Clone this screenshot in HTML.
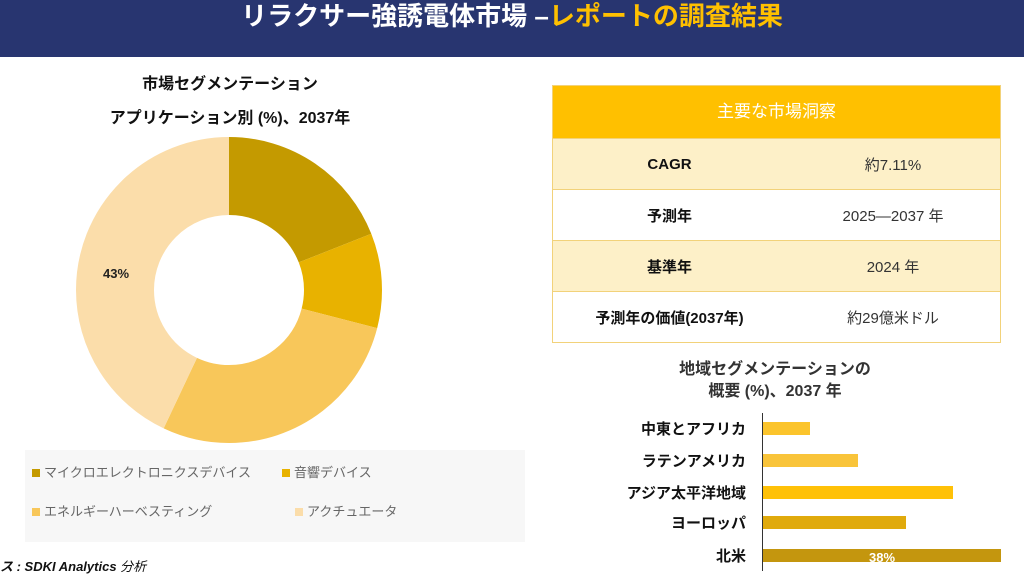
<!DOCTYPE html>
<html><head><meta charset="utf-8"><style>
*{margin:0;padding:0;box-sizing:border-box}
body{width:1024px;height:576px;background:#fff;position:relative;overflow:hidden;font-family:"Liberation Sans","Noto Sans CJK JP",sans-serif}
.hdr{position:absolute;left:0;top:0;width:1024px;height:57px;background:#283570}
.hdr div{position:absolute;top:-4px;width:1024px;text-align:center;font-size:26px;font-weight:bold;color:#fff}
.t{position:absolute;text-align:center;font-weight:bold;color:#111}
.tbl{position:absolute;left:552px;top:85px;width:449px;border:1px solid #F2D27A}
.tbl .h{height:52px;background:#FFC000;color:#fff;font-size:17px;text-align:center;line-height:52px}
.tbl .r{height:51px;border-top:1px solid #F2D27A;display:flex;align-items:center;font-size:15px}
.tbl .r.l{background:#FDF0C8}
.tbl .a{width:233px;text-align:center;font-weight:bold;color:#111}
.tbl .b{flex:1;text-align:center;color:#333}
.leg{position:absolute;left:25px;top:450px;width:500px;height:92px;background:#F7F7F7;font-size:13px;color:#666}
.leg span{position:absolute}
.sq{display:inline-block;width:8px;height:8px;margin-right:4px}
.bl{position:absolute;right:278px;font-size:15px;font-weight:bold;color:#111;text-align:right;white-space:nowrap}
.bar{position:absolute;left:763px;height:13px}
</style></head><body>
<div class="hdr"><div>リラクサー強誘電体市場 –<span style="color:#FFC000">レポートの調査結果</span></div></div>
<div class="t" style="left:60px;top:70px;width:340px;font-size:16px">市場セグメンテーション</div>
<div class="t" style="left:40px;top:104px;width:380px;font-size:16px">アプリケーション別 (%)、2037年</div>
<svg style="position:absolute;left:0;top:0" width="540" height="450">
<g transform="rotate(-90 229 290)" fill="none" stroke-width="78">
<circle cx="229" cy="290" r="114" stroke="#C49A00" stroke-dasharray="136.1 716.3" stroke-dashoffset="0"/>
<circle cx="229" cy="290" r="114" stroke="#E8B200" stroke-dasharray="71.6 716.3" stroke-dashoffset="-136.1"/>
<circle cx="229" cy="290" r="114" stroke="#F8C75A" stroke-dasharray="200.6 716.3" stroke-dashoffset="-207.7"/>
<circle cx="229" cy="290" r="114" stroke="#FBDDAA" stroke-dasharray="308 716.3" stroke-dashoffset="-408.3"/>
</g>
<text x="103" y="278" font-size="13" font-weight="bold" fill="#222" font-family="Liberation Sans, sans-serif">43%</text>
</svg>
<div class="leg">
<span style="left:7px;top:12px"><i class="sq" style="background:#C49A00"></i>マイクロエレクトロニクスデバイス</span>
<span style="left:257px;top:12px"><i class="sq" style="background:#E8B200"></i>音響デバイス</span>
<span style="left:7px;top:51px"><i class="sq" style="background:#F8C75A"></i>エネルギーハーベスティング</span>
<span style="left:270px;top:51px"><i class="sq" style="background:#FBDDAA"></i>アクチュエータ</span>
</div>
<div style="position:absolute;left:0;top:556px;font-size:13px;font-weight:bold;font-style:italic;color:#111">ス : SDKI Analytics <span style="font-weight:normal">分析</span></div>
<div class="tbl">
<div class="h">主要な市場洞察</div>
<div class="r l"><div class="a">CAGR</div><div class="b">約7.11%</div></div>
<div class="r"><div class="a">予測年</div><div class="b">2025—2037 年</div></div>
<div class="r l"><div class="a">基準年</div><div class="b">2024 年</div></div>
<div class="r"><div class="a">予測年の価値(2037年)</div><div class="b">約29億米ドル</div></div>
</div>
<div class="t" style="left:600px;top:355px;width:350px;font-size:16px;color:#333">地域セグメンテーションの</div>
<div class="t" style="left:600px;top:377px;width:350px;font-size:16px;color:#333">概要 (%)、2037 年</div>
<div style="position:absolute;left:762px;top:413px;width:1px;height:158px;background:#333"></div>
<div class="bl" style="top:418px">中東とアフリカ</div>
<div class="bl" style="top:450px">ラテンアメリカ</div>
<div class="bl" style="top:482px">アジア太平洋地域</div>
<div class="bl" style="top:512px">ヨーロッパ</div>
<div class="bl" style="top:545px">北米</div>
<div class="bar" style="top:422px;width:47px;background:#FBC42C"></div>
<div class="bar" style="top:454px;width:95px;background:#F9C43A"></div>
<div class="bar" style="top:486px;width:190px;background:#FFC107"></div>
<div class="bar" style="top:516px;width:143px;background:#E0AA0C"></div>
<div class="bar" style="top:549px;width:238px;background:#C4960E;color:#fff;font-size:13px;font-weight:bold;text-align:center;line-height:17px">38%</div>
</body></html>
